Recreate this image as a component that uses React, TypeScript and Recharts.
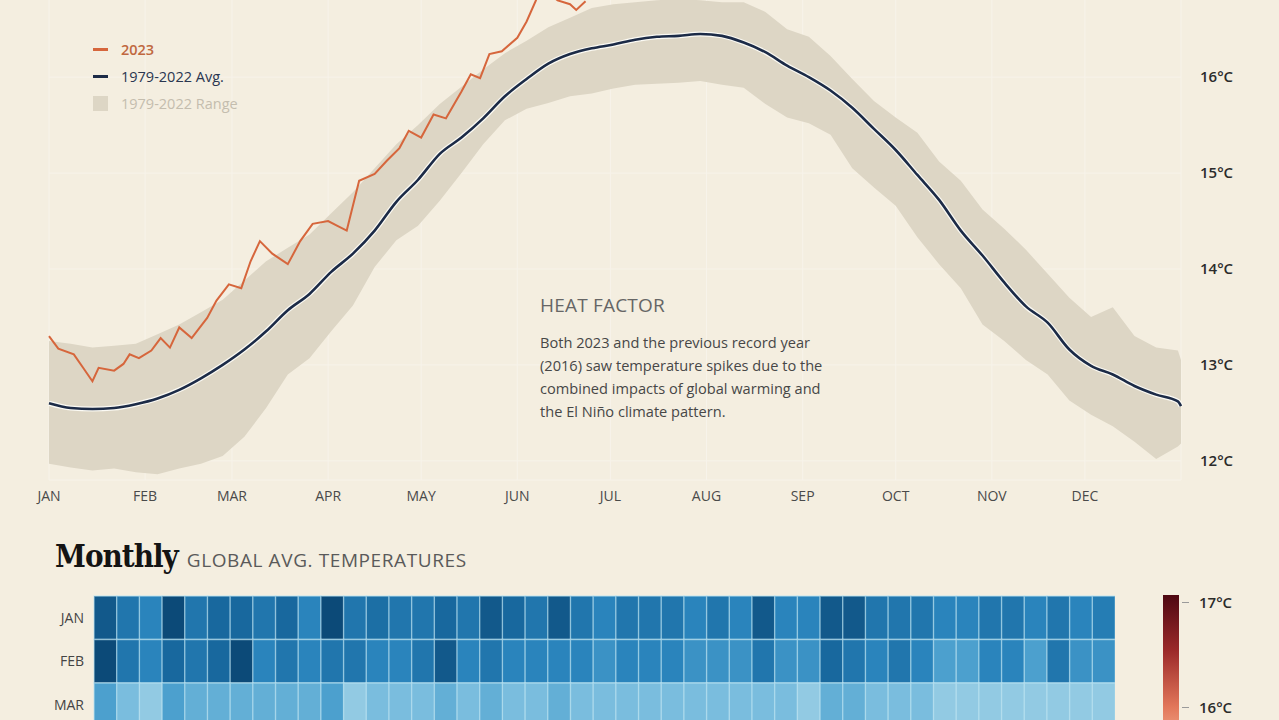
import {
  Area,
  Bar,
  BarChart,
  CartesianGrid,
  Cell,
  ComposedChart,
  Line,
  XAxis,
  YAxis,
} from "recharts";

const BG = "#f4eee0";
const FONT = "'Open Sans', 'Noto Sans', sans-serif";

const palette = {
  y2023: "#d6663c",
  avg: "#1c2b47",
  halo: "#fbfaf4",
  range: "#ddd6c5",
  legendRange: "#c4bdae",
};

// daily chart: x axis = day of year
const monthLabels = ["JAN", "FEB", "MAR", "APR", "MAY", "JUN", "JUL", "AUG", "SEP", "OCT", "NOV", "DEC"];
const monthStartDays = [0, 31, 59, 90, 120, 151, 181, 212, 243, 273, 304, 334];
// 17°C sits above the cropped top edge
const tempTicks = [12, 13, 14, 15, 16];

const climateDays = [
  0, 7, 14, 21, 28, 35, 42, 49, 56, 63, 70, 77, 84, 91, 98, 105, 112, 119, 126, 133, 140, 147, 154, 161, 168, 175,
  182, 189, 196, 203, 210, 217, 224, 231, 238, 245, 252, 259, 266, 273, 280, 287, 294, 301, 308, 315, 322, 329, 336,
  343, 350, 357, 364, 365,
];
const avgTemp = [
  12.6, 12.55, 12.54, 12.55, 12.59, 12.65, 12.74, 12.86, 13.0, 13.16, 13.35, 13.57, 13.74, 13.97, 14.16, 14.4, 14.7,
  14.93, 15.2, 15.37, 15.57, 15.8, 15.98, 16.14, 16.24, 16.3, 16.34, 16.39, 16.42, 16.43, 16.45, 16.43, 16.36, 16.26,
  16.12, 16.0, 15.86, 15.68, 15.46, 15.24, 14.98, 14.72, 14.4, 14.14, 13.86, 13.61, 13.44, 13.16, 12.99, 12.9, 12.78,
  12.69, 12.62, 12.57,
];
const rangeLow = [
  11.97, 11.93, 11.9, 11.92, 11.88, 11.86, 11.92, 11.97, 12.05, 12.25, 12.55, 12.9, 13.07, 13.35, 13.62, 14.02, 14.3,
  14.45, 14.71, 15.0, 15.3, 15.55, 15.67, 15.73, 15.8, 15.83, 15.88, 15.92, 15.93, 15.94, 15.96, 15.92, 15.89, 15.72,
  15.58, 15.52, 15.4, 15.05, 14.85, 14.66, 14.33, 14.05, 13.8, 13.42, 13.25, 13.05, 12.9, 12.63, 12.48, 12.36, 12.2,
  12.02, 12.15, 12.18,
];
const rangeHigh = [
  13.25, 13.22, 13.18, 13.2, 13.22, 13.32, 13.42, 13.55, 13.68, 13.88, 14.08, 14.22, 14.36, 14.58, 14.8, 15.05, 15.3,
  15.5, 15.72, 15.9, 16.08, 16.25, 16.38, 16.52, 16.62, 16.72, 16.76, 16.78, 16.8, 16.82, 16.8, 16.78, 16.78, 16.68,
  16.5, 16.42, 16.22, 15.98, 15.75, 15.58, 15.42, 15.12, 14.92, 14.62, 14.42, 14.2, 13.95, 13.7, 13.5, 13.6, 13.3,
  13.18, 13.15, 13.05,
];

const days2023 = [
  0, 3, 8, 11, 14, 16, 21, 24, 26, 29, 33, 36, 39, 42, 46, 51, 54, 58, 62, 65, 68, 72, 77, 81, 85, 90, 93, 96, 100,
  105, 109, 113, 116, 120, 124, 128, 133, 136, 139, 142, 146, 151, 154, 157, 158, 161, 164, 168, 170, 173,
];
const temp2023 = [
  13.3, 13.17, 13.11, 12.97, 12.83, 12.97, 12.94, 13.01, 13.11, 13.07, 13.15, 13.28, 13.18, 13.39, 13.28, 13.49, 13.67,
  13.84, 13.8, 14.08, 14.29, 14.16, 14.05, 14.29, 14.47, 14.5, 14.45, 14.4, 14.92, 14.99, 15.13, 15.26, 15.44, 15.37,
  15.61, 15.57, 15.85, 16.03, 15.99, 16.24, 16.27, 16.41, 16.58, 16.8, 16.95, 16.88, 16.8, 16.76, 16.7, 16.79,
];

// monthly heatmap, 1979-2023
const heatYears = [
  1979, 1980, 1981, 1982, 1983, 1984, 1985, 1986, 1987, 1988, 1989, 1990, 1991, 1992, 1993, 1994, 1995, 1996, 1997,
  1998, 1999, 2000, 2001, 2002, 2003, 2004, 2005, 2006, 2007, 2008, 2009, 2010, 2011, 2012, 2013, 2014, 2015, 2016,
  2017, 2018, 2019, 2020, 2021, 2022, 2023,
];
const heatRowLabels = ["JAN", "FEB", "MAR"];
const heatJan = [
  12.2, 12.4, 12.5, 12.1, 12.4, 12.3, 12.3, 12.4, 12.3, 12.5, 12.1, 12.4, 12.35, 12.4, 12.4, 12.3, 12.4, 12.2, 12.3,
  12.4, 12.2, 12.4, 12.5, 12.4, 12.4, 12.4, 12.5, 12.4, 12.5, 12.2, 12.5, 12.5, 12.2, 12.2, 12.4, 12.4, 12.4, 12.5,
  12.5, 12.4, 12.4, 12.5, 12.4, 12.5, 12.45,
];
const heatFeb = [
  12.1, 12.4, 12.5, 12.3, 12.4, 12.3, 12.1, 12.5, 12.4, 12.5, 12.4, 12.4, 12.5, 12.5, 12.4, 12.2, 12.5, 12.4, 12.5,
  12.5, 12.5, 12.5, 12.6, 12.5, 12.5, 12.5, 12.6, 12.6, 12.6, 12.4, 12.6, 12.6, 12.3, 12.4, 12.5, 12.4, 12.5, 12.7,
  12.7, 12.5, 12.5, 12.7, 12.4, 12.6, 12.6,
];
const heatMar = [
  12.7, 12.9, 13.0, 12.7, 12.8, 12.8, 12.8, 12.8, 12.8, 12.8, 12.7, 13.0, 12.9, 12.9, 12.9, 12.8, 12.9, 12.8, 12.9,
  12.9, 12.8, 12.9, 12.9, 12.9, 12.9, 12.9, 12.9, 12.9, 12.9, 12.9, 12.9, 13.0, 12.8, 12.8, 12.9, 12.9, 12.9, 13.0,
  13.0, 13.0, 13.0, 13.0, 13.0, 13.0, 13.0,
];

const blueStops: [number, number[]][] = [
  [12.1, [12, 74, 120]],
  [12.3, [24, 104, 158]],
  [12.5, [42, 132, 188]],
  [12.7, [76, 160, 206]],
  [12.9, [122, 189, 222]],
  [13.1, [170, 215, 232]],
];

function heatColor(t: number) {
  if (t <= blueStops[0][0]) return `rgb(${blueStops[0][1].join(",")})`;
  for (let i = 1; i < blueStops.length; i++) {
    const [t1, c1] = blueStops[i];
    const [t0, c0] = blueStops[i - 1];
    if (t <= t1) {
      const k = (t - t0) / (t1 - t0);
      const c = c0.map((v, j) => Math.round(v + (c1[j] - v) * k));
      return `rgb(${c.join(",")})`;
    }
  }
  return `rgb(${blueStops[blueStops.length - 1][1].join(",")})`;
}

const climateData = climateDays.map((day, i) => ({
  day,
  avg: avgTemp[i],
  range: [rangeLow[i], rangeHigh[i]],
}));
const data2023 = days2023.map((day, i) => ({ day, t: temp2023[i] }));

// each month row is one stacked unit, coloured by its temperature
const heatData = heatYears.map((year) => ({ year, jan: 1, feb: 1, mar: 1 }));
const heatSeries = [
  { key: "jan", values: heatJan },
  { key: "feb", values: heatFeb },
  { key: "mar", values: heatMar },
];

function LegendBox() {
  const row = { display: "flex", alignItems: "center", height: 27, fontSize: 14.5 };
  return (
    <div style={{ position: "absolute", left: 93, top: 36, fontFamily: FONT }}>
      <div style={{ ...row, color: "#c0683f", fontWeight: 600 }}>
        <span style={{ width: 15, height: 3, background: palette.y2023, marginRight: 13 }} />
        2023
      </div>
      <div style={{ ...row, color: "#2a3650" }}>
        <span style={{ width: 15, height: 3.5, background: palette.avg, marginRight: 13 }} />
        1979-2022 Avg.
      </div>
      <div style={{ ...row, color: palette.legendRange }}>
        <span style={{ width: 15, height: 15, background: palette.range, marginRight: 13 }} />
        1979-2022 Range
      </div>
    </div>
  );
}

export default function App() {
  return (
    <div
      style={{
        position: "absolute",
        left: 0,
        top: 0,
        width: 1279,
        height: 720,
        overflow: "hidden",
        background: BG,
        fontFamily: FONT,
      }}
    >
      <div style={{ position: "absolute", left: 0, top: -40 }}>
        <ComposedChart
          width={1279}
          height={550}
          data={climateData}
          margin={{ top: 2, right: 38, bottom: 0, left: 49 }}
        >
          <CartesianGrid stroke="#f7f3ea" strokeWidth={1} />
          <XAxis
            dataKey="day"
            type="number"
            domain={[0, 365]}
            ticks={monthStartDays}
            tickFormatter={(v) => monthLabels[monthStartDays.indexOf(v)]}
            axisLine={false}
            tickLine={false}
            tickSize={0}
            tickMargin={11}
            interval={0}
            tick={{ fill: "#4a4a4a", fontSize: 14, fontFamily: FONT }}
          />
          <YAxis
            orientation="right"
            type="number"
            domain={[11.8, 17.2]}
            allowDataOverflow
            ticks={tempTicks}
            tickFormatter={(v) => `${v}°C`}
            axisLine={false}
            tickLine={false}
            tickSize={0}
            tickMargin={19}
            width={60}
            tick={{ fill: "#2b2b2b", fontSize: 15, fontWeight: 600, fontFamily: FONT }}
          />
          <Area
            dataKey="range"
            type="linear"
            fill={palette.range}
            fillOpacity={1}
            stroke="none"
            isAnimationActive={false}
          />
          <Line
            dataKey="avg"
            type="monotone"
            stroke={palette.halo}
            strokeWidth={5}
            dot={false}
            activeDot={false}
            isAnimationActive={false}
          />
          <Line
            dataKey="avg"
            type="monotone"
            stroke={palette.avg}
            strokeWidth={2.6}
            dot={false}
            activeDot={false}
            isAnimationActive={false}
          />
          <Line
            data={data2023}
            dataKey="t"
            type="linear"
            stroke={palette.y2023}
            strokeWidth={2}
            dot={false}
            activeDot={false}
            isAnimationActive={false}
          />
        </ComposedChart>
      </div>

      <LegendBox />

      <div style={{ position: "absolute", left: 540, top: 291, width: 360 }}>
        <div style={{ fontSize: 19, color: "#666", lineHeight: "28px", letterSpacing: 0.2 }}>HEAT FACTOR</div>
        <div style={{ marginTop: 12, fontSize: 14.6, color: "#474747", lineHeight: "23px" }}>
          Both 2023 and the previous record year
          <br />
          (2016) saw temperature spikes due to the
          <br />
          combined impacts of global warming and
          <br />
          the El Niño climate pattern.
        </div>
      </div>

      <div style={{ position: "absolute", left: 55, top: 538, display: "flex", alignItems: "baseline" }}>
        <span
          style={{
            fontFamily: "'DejaVu Serif Condensed', 'DejaVu Serif', serif",
            fontStretch: "condensed",
            fontWeight: 900,
            fontSize: 31,
            color: "#141414",
            letterSpacing: -1,
          }}
        >
          Monthly
        </span>
        <span style={{ marginLeft: 9, fontSize: 19, color: "#5a5a5a", letterSpacing: 0.6 }}>
          GLOBAL AVG. TEMPERATURES
        </span>
      </div>

      <div style={{ position: "absolute", left: 0, top: 590 }}>
        <BarChart
          width={1115}
          height={137}
          data={heatData}
          margin={{ top: 6, right: 0, bottom: 0.5, left: 0 }}
          barCategoryGap={0}
          barGap={0}
        >
          <XAxis dataKey="year" type="category" hide />
          <YAxis
            type="number"
            domain={[0, 3]}
            reversed
            ticks={[0.5, 1.5, 2.5]}
            tickFormatter={(v) => heatRowLabels[Math.floor(v)]}
            axisLine={false}
            tickLine={false}
            tickSize={0}
            tickMargin={10}
            width={94}
            tick={{ fill: "#444", fontSize: 14, fontFamily: FONT }}
          />
          {heatSeries.map((s) => (
            <Bar key={s.key} dataKey={s.key} stackId="m" isAnimationActive={false}>
              {s.values.map((v, i) => (
                <Cell key={i} fill={heatColor(v)} stroke="rgba(190,228,242,0.6)" strokeWidth={1.4} />
              ))}
            </Bar>
          ))}
        </BarChart>
      </div>

      <div
        style={{
          position: "absolute",
          left: 1163,
          top: 595,
          width: 16,
          height: 140,
          background: "linear-gradient(to bottom, #4e0812 0%, #9c2a2a 40%, #e2775a 80%, #efa283 100%)",
        }}
      />
      {[
        { label: "17°C", y: 602 },
        { label: "16°C", y: 707 },
      ].map((t) => (
        <div key={t.label}>
          <div style={{ position: "absolute", left: 1182, top: t.y, width: 7, height: 1, background: "#9a9a9a" }} />
          <div
            style={{
              position: "absolute",
              left: 1199,
              top: t.y - 11,
              fontSize: 15,
              fontWeight: 600,
              color: "#2b2b2b",
              lineHeight: "22px",
            }}
          >
            {t.label}
          </div>
        </div>
      ))}
    </div>
  );
}
